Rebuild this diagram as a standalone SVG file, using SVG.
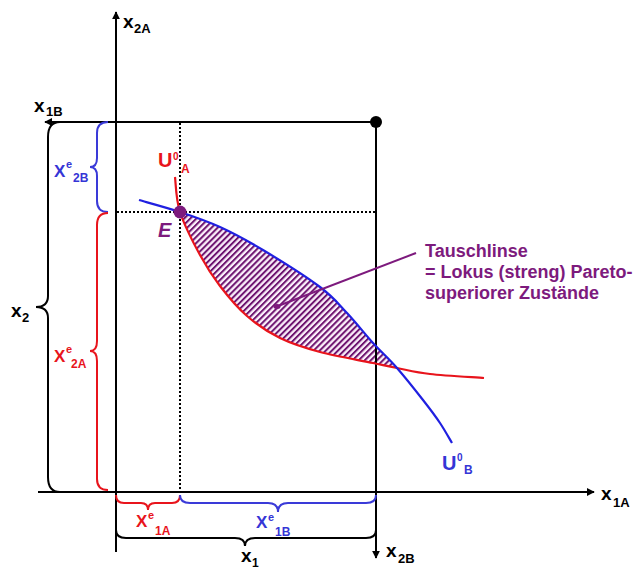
<svg xmlns="http://www.w3.org/2000/svg" width="644" height="569" viewBox="0 0 644 569">
<style>
text{font-family:"Liberation Sans",Arial,sans-serif;font-weight:bold}
.ax{stroke:#000;stroke-width:2;fill:none}
.dot{stroke:#000;stroke-width:2;stroke-dasharray:2 2;fill:none}
.red{fill:#e8141c}
.blue{fill:#3535d6}
.pur{fill:#7d1a7d}
.bR{stroke:#e8141c;stroke-width:2;fill:none}
.bB{stroke:#3a3ad8;stroke-width:2;fill:none}
.bK{stroke:#000;stroke-width:2;fill:none}
</style>
<defs>
<marker id="arr" viewBox="0 0 10 10" refX="9" refY="5" markerWidth="8" markerHeight="8" markerUnits="userSpaceOnUse" orient="auto">
<path d="M0,0 L10,5 L0,10 Z" fill="#000"/>
</marker>
<pattern id="hatch" patternUnits="userSpaceOnUse" width="4.3" height="4.3" patternTransform="rotate(45)">
<rect width="4.3" height="4.3" fill="#fbf0fb"/>
<rect width="2" height="4.3" fill="#6e1470"/>
</pattern>
</defs>

<g id="hatched-lens">
<path fill="url(#hatch)" d="M180,212 C193.5,216.5 206.2,220.7 220,227 C233.8,233.3 246.3,240 263,250 C279.7,260 306,276.5 320,287 C334,297.5 338.2,303.7 347,313 C355.8,322.3 364.7,333.8 373,343 C381.3,352.2 388.7,358.5 397,368 C387.5,366.2 385.8,365.7 373,363 C360.2,360.3 335.5,356.2 320,352 C304.5,347.8 292.2,344 280,338 C267.8,332 257,324.7 247,316 C237,307.3 227.8,296.2 220,286 C212.2,275.8 206.7,267.3 200,255 C193.3,242.7 184.2,225 180,212 Z"/>
</g>

<g id="connectors">
<line class="dot" x1="180" y1="123" x2="180" y2="491"/>
<line class="dot" x1="117" y1="212" x2="375" y2="212"/>
<line class="ax" x1="116" y1="552" x2="116" y2="12" marker-end="url(#arr)"/>
<line class="ax" x1="38" y1="492" x2="594" y2="492" marker-end="url(#arr)"/>
<line class="ax" x1="376" y1="122" x2="45" y2="122" marker-end="url(#arr)"/>
<line class="ax" x1="376" y1="122" x2="376" y2="558" marker-end="url(#arr)"/>
</g>

<g id="curve-UA">
<path stroke="#e8141c" stroke-width="2.2" fill="none" d="M175,177 C175.8,182.8 175.8,199 180,212 C184.2,225 193.3,242.7 200,255 C206.7,267.3 212.2,275.8 220,286 C227.8,296.2 237,307.3 247,316 C257,324.7 267.8,332 280,338 C292.2,344 304.5,347.8 320,352 C335.5,356.2 360.2,360.3 373,363 C385.8,365.7 387.5,366.2 397,368 C406.5,369.8 415.5,372.3 430,374 C444.5,375.7 475,377.3 484,378"/>
</g>
<g id="curve-UB">
<path stroke="#2020e0" stroke-width="2.2" fill="none" d="M139,200 C145.8,202 166.5,207.5 180,212 C193.5,216.5 206.2,220.7 220,227 C233.8,233.3 246.3,240 263,250 C279.7,260 306,276.5 320,287 C334,297.5 338.2,303.7 347,313 C355.8,322.3 364.7,333.8 373,343 C381.3,352.2 388.7,358.5 397,368 C405.3,377.5 415.8,390.8 423,400 C430.2,409.2 435.2,415.8 440,423 C444.8,430.2 450,439.7 452,443"/>
</g>

<g id="point-E">
<circle cx="180" cy="212" r="6.5" fill="#7d1a7d"/>
<text x="158" y="237" font-size="20" font-style="italic" class="pur">E</text>
</g>
<g id="endpoint">
<circle cx="376" cy="122" r="6" fill="#000"/>
</g>

<g id="braces">
<path class="bB" d="M108,122 Q97,122 97,133 L97,158 Q97,167 90,167 Q97,167 97,176 L97,201 Q97,212 108,212"/>
<path class="bR" d="M108,213 Q97,213 97,225 L97,341 Q97,351 90,351 Q97,351 97,361 L97,479 Q97,490 108,490"/>
<path class="bK" d="M60,122 Q48,122 48,137 L48,296 Q48,307 36,307 Q48,307 48,318 L48,477 Q48,492 60,492"/>
<path class="bR" d="M116,495 Q116,503 124,503 L141,503 Q148,503 148,510 Q148,503 155,503 L172,503 Q180,503 180,495"/>
<path class="bB" d="M180,495 Q180,503 190,503 L268,503 Q278,503 278,512 Q278,503 288,503 L366,503 Q376,503 376,495"/>
<path class="bK" d="M116,530 Q116,538 126,538 L235,538 Q245,538 245,546 Q245,538 255,538 L366,538 Q376,538 376,530"/>
</g>

<g id="pointer">
<line x1="416" y1="253" x2="278" y2="306" stroke="#7d1a7d" stroke-width="2"/>
<ellipse cx="277" cy="306.5" rx="3.5" ry="2.5" fill="#7d1a7d"/>
</g>

<g id="label-tauschlinse">
<text x="425" y="257" font-size="18" class="pur">Tauschlinse</text>
<text x="425" y="278" font-size="18" class="pur">= Lokus (streng) Pareto-</text>
<text x="425" y="299" font-size="18" class="pur">superiorer Zustände</text>
</g>

<g id="axis-labels">
<text x="123" y="28" font-size="19">x<tspan x="134" y="33" font-size="13">2A</tspan></text>
<text x="34" y="112" font-size="19">x<tspan x="46" y="116" font-size="13">1B</tspan></text>
<text x="601" y="500" font-size="19">x<tspan x="613" y="507" font-size="13">1A</tspan></text>
<text x="386" y="557" font-size="19">x<tspan x="398" y="563" font-size="13">2B</tspan></text>
<text x="11" y="317" font-size="19">x<tspan x="22" y="322" font-size="13">2</tspan></text>
<text x="241" y="562" font-size="19">x<tspan x="252" y="567" font-size="12">1</tspan></text>
</g>

<g id="endowment-labels">
<text x="54" y="177" font-size="17" class="blue">X<tspan x="66" y="168" font-size="11">e</tspan><tspan x="73" y="182" font-size="12">2B</tspan></text>
<text x="54" y="362" font-size="17" class="red">X<tspan x="66" y="353" font-size="11">e</tspan><tspan x="71" y="368" font-size="12">2A</tspan></text>
<text x="136" y="527" font-size="17" class="red">X<tspan x="148" y="519" font-size="11">e</tspan><tspan x="155" y="535" font-size="12">1A</tspan></text>
<text x="256" y="528" font-size="17" class="blue">X<tspan x="268" y="521" font-size="11">e</tspan><tspan x="275" y="536" font-size="12">1B</tspan></text>
</g>

<g id="curve-labels">
<text x="158" y="167" font-size="20" class="red">U<tspan x="173" y="160" font-size="10">0</tspan><tspan x="181" y="173" font-size="12">A</tspan></text>
<text x="442" y="470" font-size="20" class="blue">U<tspan x="457" y="461" font-size="10">0</tspan><tspan x="464" y="474" font-size="12">B</tspan></text>
</g>
</svg>
